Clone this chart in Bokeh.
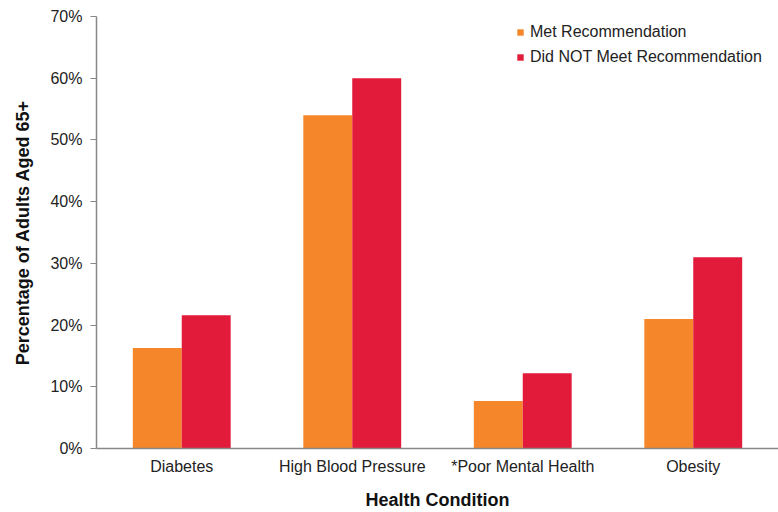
from bokeh.plotting import figure
from bokeh.models import ColumnDataSource, Range1d, FactorRange, FixedTicker, NumeralTickFormatter, Legend, LegendItem
from bokeh.transform import dodge
from bokeh.embed import file_html
from bokeh.resources import INLINE

# Health conditions among adults 65+, by whether they met the activity recommendation (%)
conditions = ["Diabetes", "High Blood Pressure", "*Poor Mental Health", "Obesity"]
met = [16.3, 54.0, 7.7, 21.0]
not_met = [21.6, 60.0, 12.2, 31.0]
series_names = ["Met Recommendation", "Did NOT Meet Recommendation"]
y_ticks = [0, 10, 20, 30, 40, 50, 60, 70]

ORANGE = "#F5862A"
RED = "#E31B3A"
FONT = "Liberation Sans"

source = ColumnDataSource(data=dict(
    cond=conditions,
    met=[v / 100 for v in met],
    not_met=[v / 100 for v in not_met],
))

p = figure(
    x_range=FactorRange(*conditions),
    y_range=Range1d(0, 0.70),
    width=778, height=512,
    output_backend="svg", toolbar_location=None,
    min_border_left=96, min_border_right=0,
    min_border_top=16, min_border_bottom=63,
)

bar_w = 0.287
r_met = p.vbar(x=dodge("cond", -bar_w / 2, range=p.x_range), top="met", width=bar_w,
               source=source, fill_color=ORANGE, line_color=None)
r_not = p.vbar(x=dodge("cond", bar_w / 2, range=p.x_range), top="not_met", width=bar_w,
               source=source, fill_color=RED, line_color=None)

p.xgrid.visible = False
p.ygrid.visible = False
p.outline_line_color = None
p.background_fill_color = "white"

# y axis
ya = p.yaxis[0]
ya.ticker = FixedTicker(ticks=[t / 100 for t in y_ticks])
ya.formatter = NumeralTickFormatter(format="0%")
ya.minor_tick_line_color = None
ya.major_tick_in = 0
ya.major_tick_out = 6
ya.major_tick_line_color = "#888888"
ya.axis_line_color = "#888888"
ya.axis_line_width = 1.5
ya.major_label_text_font = FONT
ya.major_label_text_font_size = "16px"
ya.major_label_text_color = "#222222"
ya.major_label_standoff = 8
ya.axis_label = "Percentage of Adults Aged 65+"
ya.axis_label_text_font = FONT
ya.axis_label_text_font_size = "18px"
ya.axis_label_text_font_style = "bold"
ya.axis_label_text_color = "#111111"
ya.axis_label_standoff = 14

# x axis
xa = p.xaxis[0]
xa.major_tick_line_color = None
xa.minor_tick_line_color = None
xa.axis_line_color = "#888888"
xa.axis_line_width = 1.5
xa.major_label_text_font = FONT
xa.major_label_text_font_size = "16px"
xa.major_label_text_color = "#222222"
xa.major_label_standoff = 3
xa.axis_label = "Health Condition"
xa.axis_label_text_font = FONT
xa.axis_label_text_font_size = "18px"
xa.axis_label_text_font_style = "bold"
xa.axis_label_text_color = "#111111"
xa.axis_label_standoff = 12

legend = Legend(
    items=[LegendItem(label=series_names[0], renderers=[r_met]),
           LegendItem(label=series_names[1], renderers=[r_not])],
    location=(420, 381),
    padding=0, margin=0, spacing=5,
    glyph_width=8, glyph_height=8, label_height=20, label_standoff=6,
    label_text_font=FONT, label_text_font_size="16px", label_text_color="#222222",
    border_line_color=None, background_fill_alpha=0,
)
p.add_layout(legend, "center")

open("out.html", "w").write(file_html(p, INLINE))
